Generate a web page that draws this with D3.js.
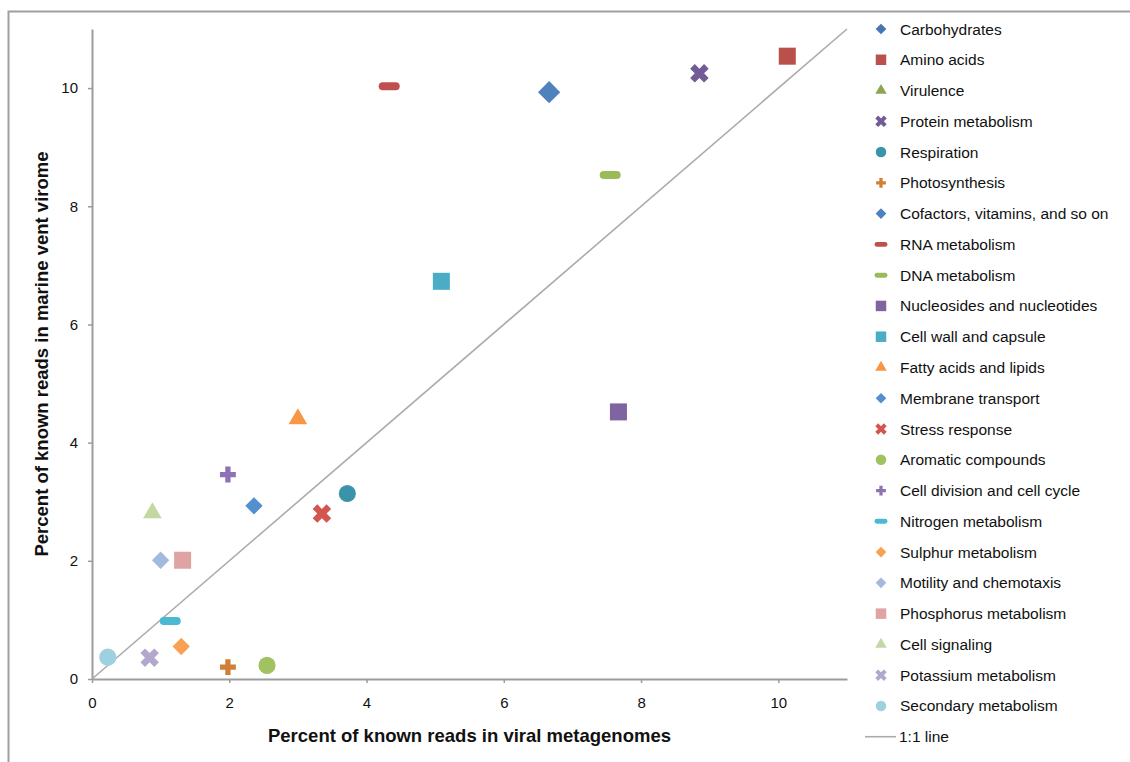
<!DOCTYPE html>
<html>
<head>
<meta charset="utf-8">
<script src="https://cdn.jsdelivr.net/npm/d3@7"></script>
<style>
  body { margin: 0; background: #fff; }
  text { font-family: "Liberation Sans", Arial, sans-serif; fill: #111; }
</style>
</head>
<body>
<div class="chart"></div>
<script>
// categories and values (percent of known reads)
var categories = ["Carbohydrates", "Amino acids", "Virulence", "Protein metabolism", "Respiration",
    "Photosynthesis", "Cofactors, vitamins, and so on", "RNA metabolism", "DNA metabolism",
    "Nucleosides and nucleotides", "Cell wall and capsule", "Fatty acids and lipids",
    "Membrane transport", "Stress response", "Aromatic compounds", "Cell division and cell cycle",
    "Nitrogen metabolism", "Sulphur metabolism", "Motility and chemotaxis", "Phosphorus metabolism",
    "Cell signaling", "Potassium metabolism", "Secondary metabolism"];

// x: viral metagenomes, y: marine vent virome (null = not visible in the figure)
var viralValues = [null, 10.13, null, 8.85, 3.72, 1.98, 6.66, 4.33, 7.55, 7.67, 5.09, 3.0,
    2.36, 3.35, 2.55, 1.98, 1.14, 1.30, 1.0, 1.32, 0.88, 0.84, 0.23];
var ventValues = [null, 10.54, null, 10.25, 3.14, 0.20, 9.93, 10.03, 8.53, 4.52, 6.73, 4.40,
    2.93, 2.80, 0.23, 3.46, 0.98, 0.55, 2.01, 2.01, 2.81, 0.36, 0.37];

var tickValues = [0, 2, 4, 6, 8, 10];

// marker styles
var shapes = ["diamond", "square", "triangle", "x", "circle", "plus", "diamond", "dash", "dash",
    "square", "square", "triangle", "diamond", "x", "circle", "plus", "dash", "diamond", "diamond",
    "square", "triangle", "x", "circle"];
var colors = ["#4675b2", "#b9504b", "#8aa653", "#735b98", "#3a93a8", "#cf7f36", "#4f81bd", "#c0504d",
    "#9bbb59", "#8064a2", "#4bacc6", "#f79646", "#5490d0", "#d2554f", "#a1c261", "#8e72b5",
    "#4bb9d1", "#f9a152", "#a5b9df", "#dfa3a3", "#c3d7a3", "#b4a7cd", "#9ed0e0"];

var width = 1130, height = 762;

var svg = d3.select(".chart").append("svg")
    .attr("width", width)
    .attr("height", height);

// outer frame (cropped on right and bottom)
svg.append("rect")
    .attr("x", 8.5).attr("y", 11.5)
    .attr("width", 1300).attr("height", 900)
    .attr("fill", "none")
    .attr("stroke", "#a0a0a0")
    .attr("stroke-width", 2);

var x = d3.scaleLinear().domain([0, 11]).range([92, 847]);
var y = d3.scaleLinear().domain([0, 11]).range([679, 29]);

function markerPath(type, k) {
    if (type == "diamond") return d3.symbol(d3.symbolSquare, 150 * k)();
    if (type == "square") return d3.symbol(d3.symbolSquare, 290 * k)();
    if (type == "triangle") return d3.symbol(d3.symbolTriangle, 150 * k)();
    if (type == "circle") return d3.symbol(d3.symbolCircle, 230 * k)();
    if (type == "x") return d3.symbol(d3.symbolCross, 215 * k)();
    if (type == "plus") return d3.symbol(d3.symbolCross, 140 * k)();
    // dash: rounded bar
    var w = 21 * Math.sqrt(k), h = 8 * Math.sqrt(k), r = h / 2;
    return "M" + (-w / 2 + r) + "," + (-h / 2) + "H" + (w / 2 - r) +
        "A" + r + "," + r + " 0 0 1 " + (w / 2 - r) + "," + (h / 2) +
        "H" + (-w / 2 + r) + "A" + r + "," + r + " 0 0 1 " + (-w / 2 + r) + "," + (-h / 2) + "Z";
}
function rot(type) { return (type == "diamond" || type == "x") ? " rotate(45)" : ""; }

// axes
var yAxis = svg.append("g")
    .attr("transform", "translate(92,0)")
    .call(d3.axisLeft(y).tickValues(tickValues).tickSize(4).tickSizeOuter(0).tickPadding(10));
var xAxis = svg.append("g")
    .attr("transform", "translate(0,679)")
    .call(d3.axisBottom(x).tickValues(tickValues).tickSize(4).tickSizeOuter(0).tickPadding(14));

[xAxis, yAxis].forEach(function(g) {
    g.select(".domain").attr("stroke", "#9c9c9c").attr("stroke-width", 2);
    g.selectAll(".tick line").attr("stroke", "#9c9c9c").attr("stroke-width", 1.5);
    g.selectAll(".tick text").style("font-size", "15px").attr("fill", "#111")
        .style("font-family", '"Liberation Sans", Arial, sans-serif');
});

// 1:1 line
svg.append("line")
    .attr("x1", x(0)).attr("y1", y(0))
    .attr("x2", x(11)).attr("y2", y(11))
    .attr("stroke", "#ababab")
    .attr("stroke-width", 1.6);

// points
var points = categories.map(function(c, i) {
    return { name: c, vx: viralValues[i], vy: ventValues[i], shape: shapes[i], color: colors[i], big: i == 6 };
}).filter(function(d) { return d.vx != null; });

svg.selectAll("path.pt")
    .data(points)
    .enter().append("path")
    .attr("class", "pt")
    .attr("d", function(d) { return markerPath(d.shape, d.big ? 1.65 : 1); })
    .attr("transform", function(d) { return "translate(" + x(d.vx) + "," + y(d.vy) + ")" + rot(d.shape); })
    .attr("fill", function(d) { return d.color; });

// axis titles
svg.append("text")
    .attr("x", (x(0) + x(11)) / 2)
    .attr("y", 742)
    .attr("text-anchor", "middle")
    .style("font-size", "18.5px")
    .style("font-weight", "bold")
    .text("Percent of known reads in viral metagenomes");

svg.append("text")
    .attr("transform", "translate(48," + (y(0) + y(11)) / 2 + ") rotate(-90)")
    .attr("text-anchor", "middle")
    .style("font-size", "18.5px")
    .style("font-weight", "bold")
    .text("Percent of known reads in marine vent virome");

// legend
var legend = svg.append("g");
var row = 30.77;
var items = legend.selectAll("g")
    .data(categories)
    .enter().append("g")
    .attr("transform", function(d, i) { return "translate(0," + (29 + i * row) + ")"; });

items.append("path")
    .attr("d", function(d, i) { return markerPath(shapes[i], 0.38); })
    .attr("transform", function(d, i) { return "translate(881,0)" + rot(shapes[i]); })
    .attr("fill", function(d, i) { return colors[i]; });

items.append("text")
    .attr("x", 900)
    .attr("y", 5.5)
    .style("font-size", "15.5px")
    .text(function(d) { return d; });

var lineRow = 29 + categories.length * row;
legend.append("line")
    .attr("x1", 865).attr("x2", 896)
    .attr("y1", lineRow).attr("y2", lineRow)
    .attr("stroke", "#ababab")
    .attr("stroke-width", 1.6);
legend.append("text")
    .attr("x", 899)
    .attr("y", lineRow + 5.5)
    .style("font-size", "15.5px")
    .text("1:1 line");
</script>
</body>
</html>
